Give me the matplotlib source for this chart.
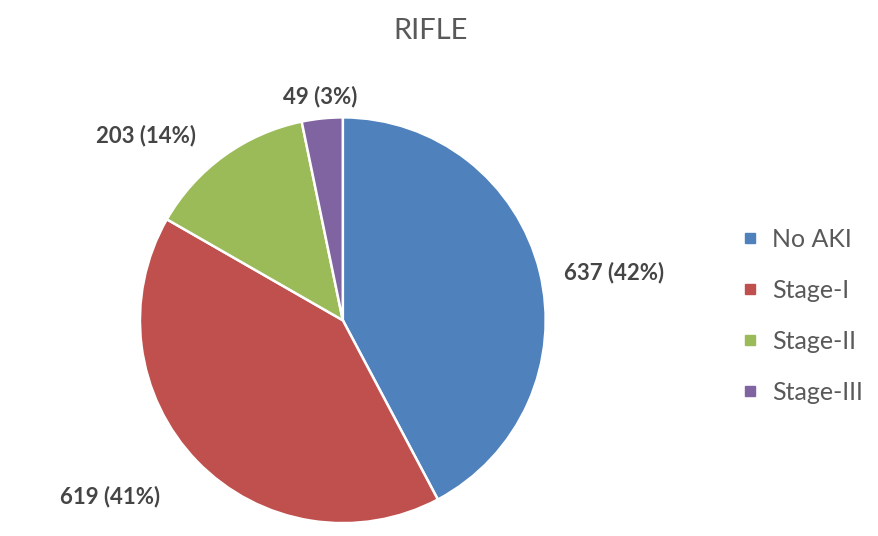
import numpy as np
import matplotlib.pyplot as plt
from matplotlib.lines import Line2D

stages = ["No AKI", "Stage-I", "Stage-II", "Stage-III"]
counts = [637, 619, 203, 49]
percents = [42, 41, 14, 3]
colors = ["#4F81BD", "#C0504D", "#9BBB59", "#8064A2"]

# label distance (in radii) and small angle nudge per slice
label_dist = [1.36, 1.44, 1.33, 1.11]
label_nudge = [-4, -7, 11, 0]

plt.rcParams["font.family"] = ["Lato", "DejaVu Sans"]
text_color = "#595959"

fig = plt.figure(figsize=(8.79, 5.36), dpi=100)
ax = fig.add_axes([0.159, 0.024, 0.462, 0.757])

wedges, _ = ax.pie(
    counts,
    colors=colors,
    startangle=90,
    counterclock=False,
    wedgeprops=dict(edgecolor="white", linewidth=1.8),
)
ax.set_aspect("equal")
ax.set_xlim(-1, 1)
ax.set_ylim(-1, 1)

for w, n, p, d, nudge in zip(wedges, counts, percents, label_dist, label_nudge):
    ang = np.deg2rad((w.theta1 + w.theta2) / 2 + nudge)
    ax.text(d * np.cos(ang), d * np.sin(ang), f"{n} ({p}%)",
            ha="center", va="center", fontsize=16, color="#454545",
            fontweight="bold", clip_on=False)

fig.text(0.49, 0.943, "RIFLE", ha="center", va="center",
         fontsize=21, color=text_color)

handles = [Line2D([], [], marker="s", linestyle="", markersize=7,
                  markerfacecolor=c, markeredgecolor=c) for c in colors]
fig.legend(handles, stages, loc="center left", bbox_to_anchor=(0.819, 0.41),
           frameon=False, fontsize=18, labelcolor=text_color,
           handlelength=0.6, handletextpad=0.6, labelspacing=1.12)

fig.savefig("out.png", dpi=100)
